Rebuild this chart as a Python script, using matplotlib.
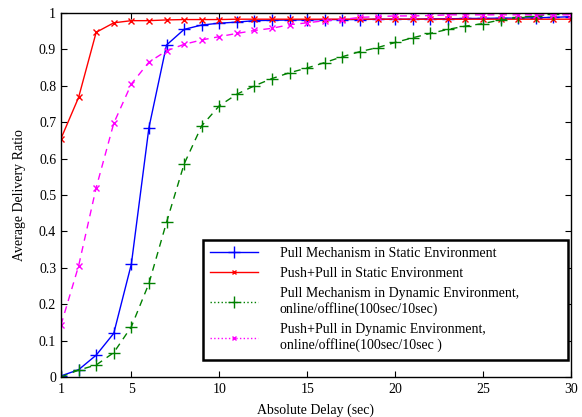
import matplotlib.pyplot as plt
from matplotlib.lines import Line2D

# data
delay = list(range(1, 31))
pull_static = [0.003, 0.02, 0.06, 0.12, 0.31, 0.685, 0.912, 0.955, 0.967, 0.972,
               0.975, 0.979, 0.980, 0.981, 0.981, 0.982, 0.982, 0.982, 0.983, 0.983,
               0.983, 0.984, 0.984, 0.985, 0.985, 0.986, 0.986, 0.987, 0.988, 0.990]
pushpull_static = [0.655, 0.768, 0.947, 0.973, 0.979, 0.979, 0.981, 0.982, 0.982, 0.982,
                   0.983, 0.983, 0.983, 0.983, 0.983, 0.983, 0.983, 0.983, 0.983, 0.983,
                   0.983, 0.983, 0.983, 0.983, 0.983, 0.983, 0.983, 0.983, 0.983, 0.983]
pull_dynamic = [0.0, 0.019, 0.033, 0.067, 0.138, 0.257, 0.425, 0.585, 0.69, 0.745,
                0.777, 0.80, 0.82, 0.836, 0.849, 0.864, 0.88, 0.894, 0.905, 0.919,
                0.932, 0.944, 0.955, 0.964, 0.971, 0.981, 0.988, 0.992, 0.997, 0.999]
pushpull_dynamic = [0.143, 0.305, 0.52, 0.697, 0.805, 0.865, 0.896, 0.914, 0.926, 0.935,
                    0.944, 0.952, 0.958, 0.968, 0.973, 0.979, 0.982, 0.988, 0.99, 0.992,
                    0.992, 0.993, 0.995, 0.995, 0.995, 0.995, 0.995, 0.995, 0.995, 0.995]

labels = ["Pull Mechanism in Static Environment",
          "Push+Pull in Static Environment",
          "Pull Mechanism in Dynamic Environment,\nonline/offline(100sec/10sec)",
          "Push+Pull in Dynamic Environment,\nonline/offline(100sec/10sec )"]

plt.rcParams['font.family'] = ['Liberation Serif', 'DejaVu Serif']

fig = plt.figure(figsize=(5.82, 4.17), dpi=100)
ax = fig.add_axes([0.1048, 0.0959, 0.8763, 0.8729])

green = '#008000'
ax.plot(delay, pull_static, color='blue', lw=1, marker='+', ms=8, mew=1)
ax.plot(delay, pushpull_static, color='red', lw=1, marker='x', ms=4, mew=1)
ax.plot(delay, pull_dynamic, color=green, lw=1, ls=(0, (5, 4)), marker='+', ms=8, mew=1)
ax.plot(delay, pushpull_dynamic, color='magenta', lw=1, ls=(0, (5, 4)), marker='x', ms=5, mew=1)

ax.set_xlim(1, 30)
ax.set_ylim(0, 1)
ax.set_xticks([1, 5, 10, 15, 20, 25, 30])
ax.set_yticks([i / 10 for i in range(11)])
ax.set_yticklabels(['0', '0.1', '0.2', '0.3', '0.4', '0.5', '0.6', '0.7', '0.8', '0.9', '1'])
ax.tick_params(direction='in', top=True, right=True, labelsize=10, length=4, width=0.8)
ax.tick_params(axis='x', pad=4.5)
for s in ax.spines.values():
    s.set_linewidth(1)
ax.set_xlabel('Absolute Delay (sec)', fontsize=10, labelpad=5)
ax.set_ylabel('Average Delivery Ratio', fontsize=10, labelpad=9)

# legend shows dotted line styles for the dynamic series, as in the original
handles = [Line2D([], [], color='blue', lw=1, marker='+', ms=8),
           Line2D([], [], color='red', lw=1, marker='x', ms=3),
           Line2D([], [], color=green, lw=1, ls=':', marker='+', ms=8),
           Line2D([], [], color='magenta', lw=1, ls=':', marker='x', ms=3)]
# wide box with empty space on the right, like the MATLAB export
leg = ax.legend(handles, labels, loc='lower left', bbox_to_anchor=(0.278, 0.047, 0.716, 0.3),
                mode='expand', borderaxespad=0, fontsize=10, fancybox=False,
                edgecolor='black', framealpha=1, borderpad=0.55, handlelength=3.4,
                handletextpad=1.6, labelspacing=0.5)
leg.get_frame().set_linewidth(1.8)

fig.savefig('out.png', dpi=100)
